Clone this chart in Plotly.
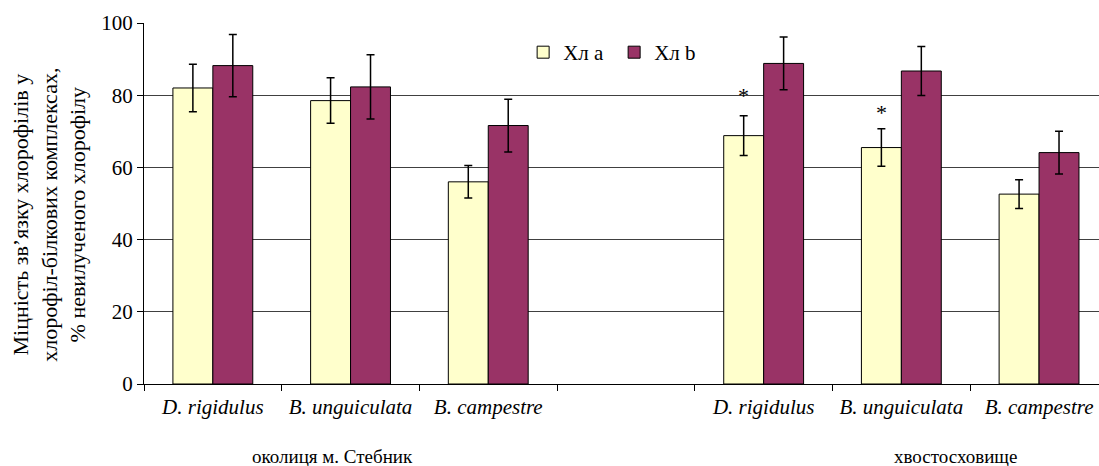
import plotly.graph_objects as go

# Species along the x axis (an empty slot separates the two sites)
categories = ["D. rigidulus", "B. unguiculata", "B. campestre", "",
              "D. rigidulus", "B. unguiculata", "B. campestre"]
sites = ["околиця м. Стебник", "хвостосховище"]

# Slots that carry measurements (slot 3 is the spacer)
data_slots = [0, 1, 2, 4, 5, 6]

# Strength of chlorophyll binding, % of non-extracted chlorophyll
chl_a = [82.0, 78.5, 56.0, 68.8, 65.5, 52.6]
chl_b = [88.2, 82.3, 71.6, 88.8, 86.7, 64.1]
err_a = [6.6, 6.3, 4.5, 5.5, 5.2, 4.0]
err_b = [8.6, 8.9, 7.3, 7.3, 6.8, 5.9]

# Measurements marked as significantly different (index into chl_a)
significant = [3, 4]

y_ticks = [0, 20, 40, 60, 80, 100]

FONT = "Times New Roman"
slots = list(range(len(categories)))
BARGAP = 0.42
bar_w = (1 - BARGAP) / 2


def serif(size, **kw):
    return dict(family=FONT, size=size, color="black", **kw)


fig = go.Figure()
fig.add_trace(go.Bar(
    x=data_slots, y=chl_a, name="Хл a",
    marker=dict(color="#FFFFCC", line=dict(color="black", width=1)),
    error_y=dict(type="data", array=err_a, color="black", thickness=1.5, width=4),
))
fig.add_trace(go.Bar(
    x=data_slots, y=chl_b, name="Хл b",
    marker=dict(color="#993366", line=dict(color="black", width=1)),
    error_y=dict(type="data", array=err_b, color="black", thickness=1.5, width=4),
))

annotations = []
# asterisks above the marked "Хл a" bars
for i, shift in zip(significant, [6, 2]):
    annotations.append(dict(
        x=data_slots[i] - bar_w / 2, y=chl_a[i] + err_a[i],
        xref="x", yref="y", text="*", showarrow=False,
        yanchor="bottom", yshift=shift, font=serif(22),
    ))

# site names under the species labels
for name, xc in zip(sites, [0.87, 5.39]):
    annotations.append(dict(
        x=xc, y=-0.2, xref="x", yref="paper", text=name, showarrow=False,
        xanchor="center", yanchor="middle", font=serif(19),
    ))

# y axis title
annotations.append(dict(
    x=-0.099, y=0.47, xref="paper", yref="paper", showarrow=False,
    textangle=-90, xanchor="center", yanchor="middle", align="center",
    text="Міцність зв\u2019язку хлорофілів у<br>хлорофіл-білкових комплексах,<br>% невилученого хлорофілу",
    font=serif(22),
))

fig.update_layout(
    width=1099, height=466,
    margin=dict(l=144, r=0, t=23, b=82),
    paper_bgcolor="white", plot_bgcolor="white",
    barmode="group", bargap=BARGAP, bargroupgap=0,
    showlegend=True,
    legend=dict(
        orientation="h", x=0.397, y=0.975, xanchor="left", yanchor="top",
        font=serif(21), bgcolor="rgba(0,0,0,0)", itemwidth=30, entrywidth=46,
    ),
    annotations=annotations,
    font=serif(20),
)

fig.update_xaxes(
    range=[-0.5, -0.5 + 955 / 137.7],
    tickmode="array", tickvals=slots, ticktext=categories,
    ticks="", ticklabelstandoff=4, tickfont=serif(21, style="italic"),
    showline=True, linecolor="black", linewidth=1,
    showgrid=False, zeroline=False,
    minor=dict(tickvals=[p - 0.5 for p in slots] + [slots[-1] + 0.5],
               ticks="outside", ticklen=6, tickcolor="black", tickwidth=1,
               showgrid=False),
)
fig.update_yaxes(
    range=[0, 100], tickmode="array", tickvals=y_ticks,
    ticks="outside", ticklen=6, tickcolor="black", tickfont=serif(21),
    showline=True, linecolor="black", linewidth=1,
    showgrid=True, gridcolor="#404040", gridwidth=1,
    zeroline=False,
)

fig.write_html("out.html")
